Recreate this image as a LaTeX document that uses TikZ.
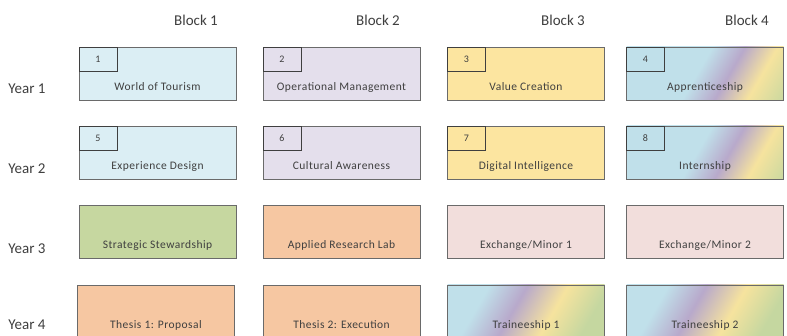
\documentclass[tikz,border=0pt]{standalone}
\usepackage{fontspec}
\setmainfont{Carlito}
\newfontfamily\boxfont[LetterSpace=4]{Carlito}
\definecolor{tourblue}{HTML}{DBEEF4}
\definecolor{mgmtlilac}{HTML}{E4DFEC}
\definecolor{valueyellow}{HTML}{FCE5A0}
\definecolor{stewgreen}{HTML}{C6D7A0}
\definecolor{thesisorange}{HTML}{F6C7A2}
\definecolor{minorpink}{HTML}{F2DEDC}
\definecolor{rbblue}{HTML}{C0E0EA}
\definecolor{rbpurple}{HTML}{B8A9CB}
\definecolor{rbyellow}{HTML}{F6E39E}
\definecolor{rbgreen}{HTML}{C5D7A0}
\definecolor{boxline}{HTML}{6A6A6A}
\definecolor{inkgrey}{HTML}{3F3F3F}
\pgfdeclarehorizontalshading{rainbowshort}{100bp}{color(0bp)=(rbblue); color(47bp)=(rbblue); color(59bp)=(rbpurple); color(71bp)=(rbyellow); color(86bp)=(rbgreen); color(100bp)=(rbgreen)}
\pgfdeclarehorizontalshading{rainbowtall}{100bp}{color(0bp)=(rbblue); color(31bp)=(rbblue); color(45bp)=(rbpurple); color(60bp)=(rbyellow); color(75bp)=(rbgreen); color(100bp)=(rbgreen)}

\begin{document}
\begin{tikzpicture}
[
    x=1pt, y=-1pt,
    course/.style={draw=boxline, line width=0.9pt, outer sep=0pt, minimum width=157pt, minimum height=53pt, text height=37pt, text depth=3pt, inner ysep=6.5pt, inner xsep=0pt, font=\boxfont\fontsize{11.5}{13}\selectfont, text=inkgrey},
    number/.style={draw=inkgrey, line width=0.9pt, outer sep=0pt, anchor=north west, minimum width=38pt, minimum height=24pt, inner sep=0pt, font=\fontsize{10}{11}\selectfont, text=inkgrey},
    heading/.style={font=\fontsize{15}{17}\selectfont, text=inkgrey},
]
\useasboundingbox [fill=white] (0,0) rectangle (787,336);

\node [heading] (block1) at (196,20) {Block 1};
\node [heading] (block2) at (378,20) {Block 2};
\node [heading] (block3) at (563,20) {Block 3};
\node [heading] (block4) at (747,20) {Block 4};

\node [heading] (year1) at (27,89) {Year 1};
\node [heading] (year2) at (27,169) {Year 2};
\node [heading] (year3) at (27,249) {Year 3};
\node [heading] (year4) at (27,325) {Year 4};

\node [course, fill=tourblue] (tourism) at (157.5,73.5) {World of Tourism};
\node [course, fill=mgmtlilac] (operational) at (341.5,73.5) {Operational Management};
\node [course, fill=valueyellow] (value) at (526,73.5) {Value Creation};
\node [course, shading=rainbowshort, shading angle=-30] (apprentice) at (705,73.5) {Apprenticeship};

\node [course, fill=tourblue] (experience) at (157.5,152.5) {Experience Design};
\node [course, fill=mgmtlilac] (cultural) at (341.5,152.5) {Cultural Awareness};
\node [course, fill=valueyellow] (digital) at (526,152.5) {Digital Intelligence};
\node [course, shading=rainbowshort, shading angle=-30] (internship) at (705,152.5) {Internship};

\node [course, fill=stewgreen] (stewardship) at (157.5,231.5) {Strategic Stewardship};
\node [course, fill=thesisorange] (research) at (341.5,231.5) {Applied Research Lab};
\node [course, fill=minorpink] (minor1) at (526,231.5) {Exchange/Minor 1};
\node [course, fill=minorpink] (minor2) at (705,231.5) {Exchange/Minor 2};

\node [course, fill=thesisorange] (proposal) at (156,311.5) {Thesis 1: Proposal};
\node [course, fill=thesisorange] (execution) at (341.5,311.5) {Thesis 2: Execution};
\node [course, shading=rainbowtall, shading angle=-30] (trainee1) at (526,311.5) {Traineeship 1};
\node [course, shading=rainbowtall, shading angle=-30] (trainee2) at (705,311.5) {Traineeship 2};

\node [number] (num1) at (tourism.north west) {1};
\node [number] (num2) at (operational.north west) {2};
\node [number] (num3) at (value.north west) {3};
\node [number] (num4) at (apprentice.north west) {4};
\node [number] (num5) at (experience.north west) {5};
\node [number] (num6) at (cultural.north west) {6};
\node [number] (num7) at (digital.north west) {7};
\node [number] (num8) at (internship.north west) {8};
\end{tikzpicture}
\end{document}
